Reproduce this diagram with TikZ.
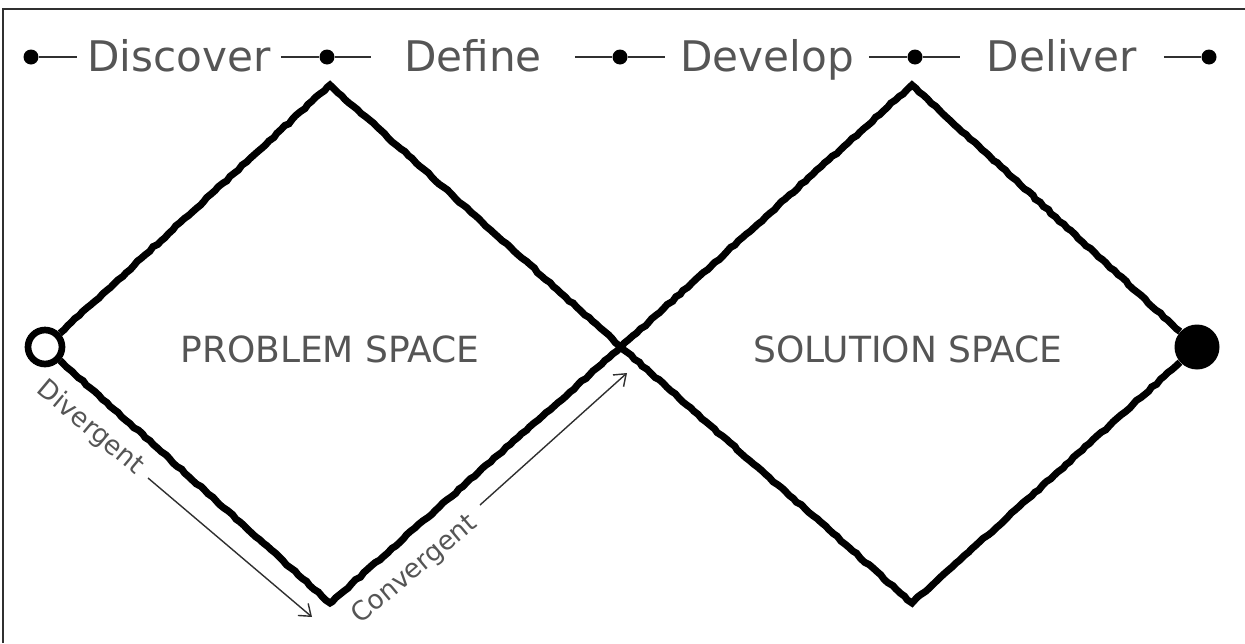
\documentclass[tikz,border=0pt]{standalone}
\usepackage{fontspec}
\setmainfont{DejaVu Sans}
\usetikzlibrary{arrows.meta,decorations.pathmorphing}

\definecolor{inkgray}{HTML}{555555}
\definecolor{stubgray}{HTML}{303030}

\begin{document}
\begin{tikzpicture}[x=0.02cm, y=-0.02cm,
  rough/.style={line width=4pt, line join=miter, decorate,
    decoration={random steps, segment length=3pt, amplitude=0.45pt}},
  dot/.style={circle, fill=black, inner sep=0pt, minimum size=0.3cm},
  phase/.style={anchor=base, inner sep=0pt, minimum width=4.06cm, text=inkgray,
    font=\fontsize{24}{28}\selectfont},
  stub/.style={stubgray, line width=1.6pt},
  space/.style={text=inkgray, font=\fontsize{20.5}{24}\selectfont},
  mode/.style={text=inkgray, font=\fontsize{15}{18}\selectfont},
  arr/.style={-{Straight Barb[length=6pt,width=9pt]}, stubgray, line width=0.8pt}]

  \useasboundingbox (0,0) rectangle (1245,643);
  % Frame (only top and left edges show)
  \draw[stubgray, line width=1.7pt] (3,643) -- (3,9) -- (1245,9);

  % Phases
  \node[dot] (d1) at (31,57) {};
  \node[dot] (d2) at (327,57) {};
  \node[dot] (d3) at (620,57) {};
  \node[dot] (d4) at (915,57) {};
  \node[dot] (d5) at (1209,57) {};
  \node[phase] (discover) at (179,71) {Discover};
  \node[phase] (define)   at (473,71) {Define};
  \node[phase] (develop)  at (767,71) {Develop};
  \node[phase] (deliver)  at (1062,71) {Deliver};
  \draw[stub] (d1) -- (discover.west |- d1);
  \draw[stub] (discover.east |- d2) -- (d2) -- (define.west |- d2);
  \draw[stub] (define.east |- d3) -- (d3) -- (develop.west |- d3);
  \draw[stub] (develop.east |- d4) -- (d4) -- (deliver.west |- d4);
  \draw[stub] (deliver.east |- d5) -- (d5);

  % Double diamond
  \coordinate (T1) at (330,85);
  \coordinate (B1) at (330,603);
  \coordinate (X)  at (621,347);
  \coordinate (T2) at (912,85);
  \coordinate (B2) at (912,603);
  \node[circle, draw, fill=white, line width=3.8pt, minimum size=0.68cm, inner sep=0pt] (start) at (45,347) {};
  \node[circle, fill=black, minimum size=0.9cm, inner sep=0pt] (finish) at (1197,347) {};
  \draw[rough] (start) -- (T1) -- (X) -- (B1) -- (start);
  \draw[rough] (X) -- (T2) -- (finish) -- (B2) -- (X);

  \node[space] (problem)  at (330,349) {PROBLEM SPACE};
  \node[space] (solution) at (908,349) {SOLUTION SPACE};

  % Divergent / convergent
  \node[mode, rotate=-40] (divergent)  at (90,428)  {Divergent};
  \node[mode, rotate=40]  (convergent) at (415,570) {Convergent};
  \coordinate (divS) at (148,478);
  \coordinate (divE) at (312,617);
  \coordinate (conS) at (480,505);
  \coordinate (conE) at (627,373);
  \draw[arr] (divS) -- (divE);
  \draw[arr] (conS) -- (conE);
\end{tikzpicture}
\end{document}
